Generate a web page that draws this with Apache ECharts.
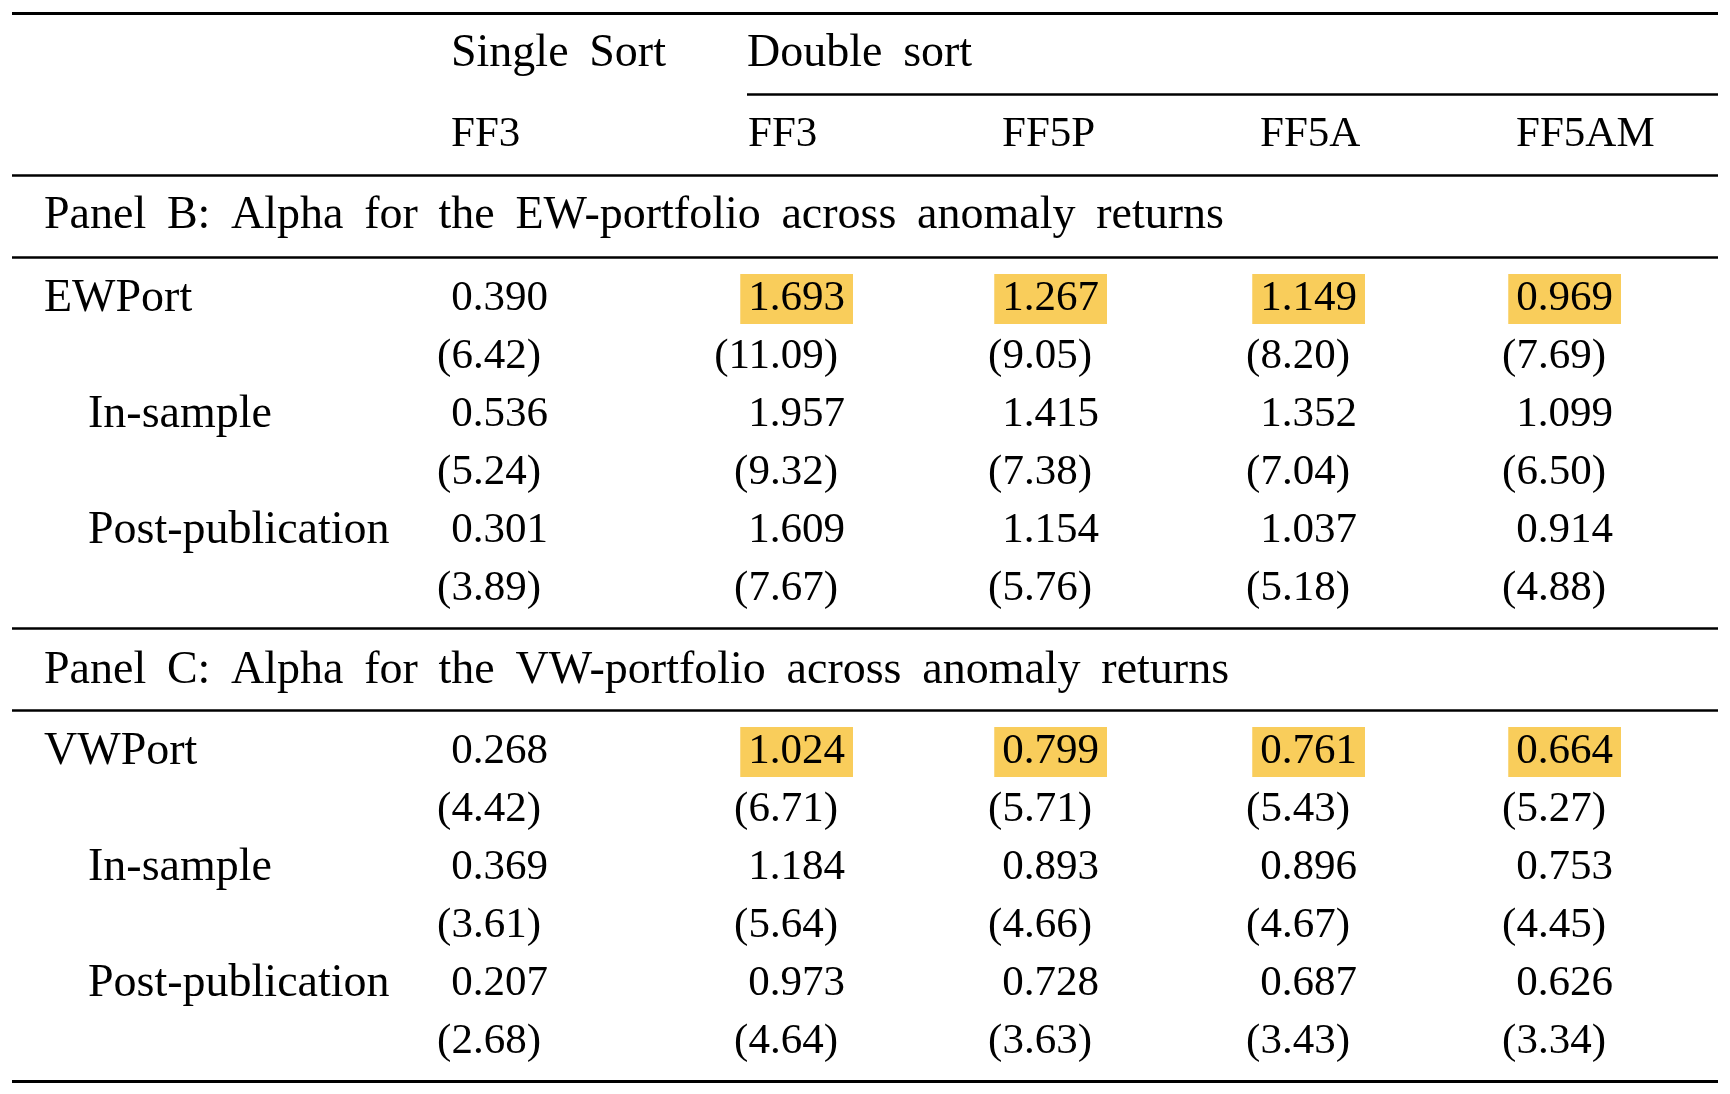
<!DOCTYPE html>
<html>
<head>
<meta charset="utf-8">
<script src="https://cdn.jsdelivr.net/npm/echarts@6/dist/echarts.min.js"></script>
<style>
  html, body { margin: 0; padding: 0; background: #fff; }
  #table { width: 1730px; height: 1094px; }
</style>
</head>
<body>
<div id="table"></div>
<script>
var groupHeads = ['Single Sort', 'Double sort'];
var models = ['FF3', 'FF3', 'FF5P', 'FF5A', 'FF5AM'];
var panelTitles = [
  'Panel B: Alpha for the EW-portfolio across anomaly returns',
  'Panel C: Alpha for the VW-portfolio across anomaly returns'
];
var ewRows = ['EWPort', 'In-sample', 'Post-publication'];
var vwRows = ['VWPort', 'In-sample', 'Post-publication'];

var ewAlpha = [
  [0.390, 1.693, 1.267, 1.149, 0.969],
  [0.536, 1.957, 1.415, 1.352, 1.099],
  [0.301, 1.609, 1.154, 1.037, 0.914]
];
var ewT = [
  [6.42, 11.09, 9.05, 8.20, 7.69],
  [5.24, 9.32, 7.38, 7.04, 6.50],
  [3.89, 7.67, 5.76, 5.18, 4.88]
];
var vwAlpha = [
  [0.268, 1.024, 0.799, 0.761, 0.664],
  [0.369, 1.184, 0.893, 0.896, 0.753],
  [0.207, 0.973, 0.728, 0.687, 0.626]
];
var vwT = [
  [4.42, 6.71, 5.71, 5.43, 5.27],
  [3.61, 5.64, 4.66, 4.67, 4.45],
  [2.68, 4.64, 3.63, 3.43, 3.34]
];
// portfolio rows, double-sort columns get the yellow mark
var markedCols = [1, 2, 3, 4];

// layout (pixels on a 1730 x 1094 canvas)
var FONT = 'Liberation Serif';
var FS = 43;       // numbers and model names
var FS_WORD = 46;  // words (the original face has wider lower case)
var colRight = [548, 845, 1099, 1357, 1613];
var headLeft = colRight.map(function (r) { return r - 97; });
var groupLeft = [451, 747];
var yGroup = 51, yModel = 132;
var panelY = [213, 668];
var firstRowY = [296, 749];
var rowStep = 58;
var tShift = 7;

function wide(s) { return s.replace(/ /g, ' \u2009'); }

var valueData = [], tData = [], wordData = [], headData = [], markData = [];

groupHeads.forEach(function (g, i) {
  wordData.push({ value: [groupLeft[i], yGroup], name: wide(g) });
});
models.forEach(function (m, i) {
  headData.push({ value: [headLeft[i], yModel], name: m });
});

function addPanel(p, title, rows, alpha, tstat) {
  wordData.push({ value: [44, panelY[p]], name: wide(title) });
  rows.forEach(function (r, i) {
    var y = firstRowY[p] + i * 2 * rowStep;
    wordData.push({ value: [i === 0 ? 44 : 88, y], name: r });
    alpha[i].forEach(function (a, j) {
      var item = { value: [colRight[j], y], name: a.toFixed(3) };
      if (i === 0 && markedCols.indexOf(j) >= 0) markData.push(item);
      else valueData.push(item);
    });
    tstat[i].forEach(function (t, j) {
      tData.push({ value: [colRight[j] - tShift, y + rowStep], name: '(' + t.toFixed(2) + ')' });
    });
  });
}
addPanel(0, panelTitles[0], ewRows, ewAlpha, ewT);
addPanel(1, panelTitles[1], vwRows, vwAlpha, vwT);

function rule(x1, x2, y, w) {
  return [{ coord: [x1, y], lineStyle: { width: w } }, { coord: [x2, y] }];
}

var baseLabel = {
  show: true,
  formatter: function (p) { return p.name; },
  fontFamily: FONT,
  fontSize: FS,
  color: '#000',
  opacity: 1,
  textBorderWidth: 0,
  position: 'inside',
  verticalAlign: 'middle',
  offset: [0, 3]
};

function textSeries(data, label) {
  return {
    type: 'scatter',
    data: data,
    symbolSize: 0,
    silent: true,
    itemStyle: { opacity: 1 },
    label: Object.assign({}, baseLabel, label)
  };
}

var chart = echarts.init(document.getElementById('table'));
chart.setOption({
  animation: false,
  grid: { left: 0, right: 0, top: 0, bottom: 0 },
  xAxis: { type: 'value', min: 0, max: 1730, show: false },
  yAxis: { type: 'value', min: 0, max: 1094, inverse: true, show: false },
  series: [
    textSeries(wordData, { align: 'left', fontSize: FS_WORD }),
    textSeries(headData, { align: 'left' }),
    textSeries(valueData, { align: 'right' }),
    textSeries(tData, { align: 'right' }),
    textSeries(markData, {
      align: 'right',
      backgroundColor: '#F9CD5B',
      padding: [4, 8, 6, 8],
      lineHeight: 40,
      offset: [8, 3]
    }),
    {
      type: 'line',
      data: [],
      markLine: {
        silent: true,
        symbol: 'none',
        label: { show: false },
        lineStyle: { color: '#000', type: 'solid', width: 2.5, opacity: 1 },
        data: [
          rule(12, 1718, 13, 3),
          rule(747, 1718, 94, 2.5),
          rule(12, 1718, 175, 2.5),
          rule(12, 1718, 257, 2.5),
          rule(12, 1718, 628, 2.5),
          rule(12, 1718, 710, 2.5),
          rule(12, 1718, 1081, 3)
        ]
      }
    }
  ]
});
</script>
</body>
</html>
